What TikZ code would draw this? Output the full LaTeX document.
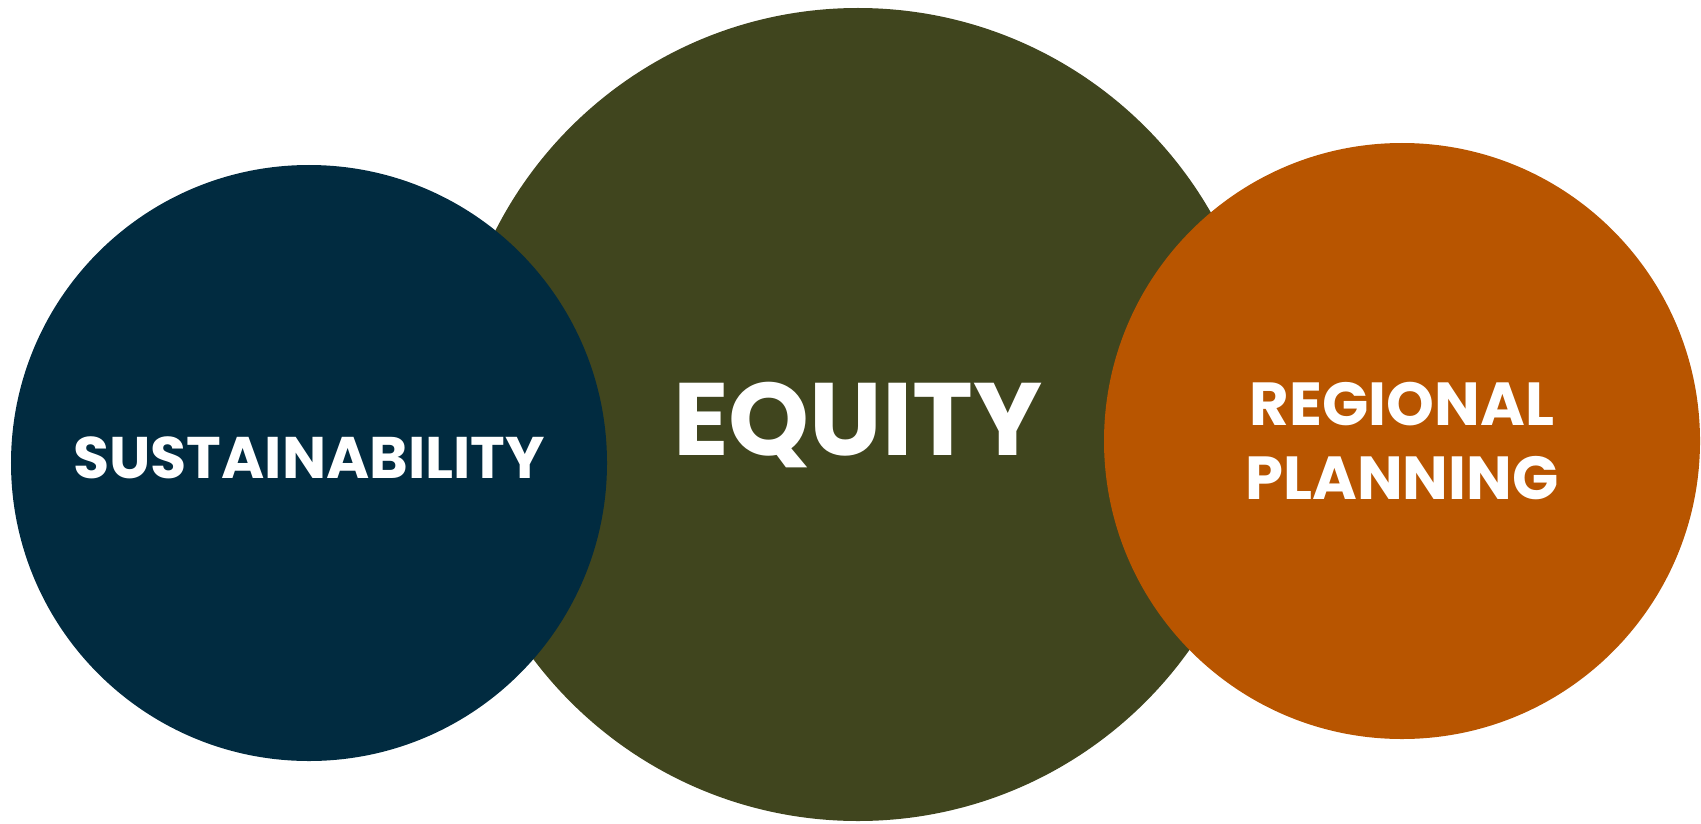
\documentclass[tikz,border=0pt]{standalone}
\usepackage{fontspec}
\setmainfont{Poppins}
\usepackage{tikz}
\definecolor{equitygreen}{RGB}{64,69,30}
\definecolor{sustainblue}{RGB}{1,43,64}
\definecolor{regionorange}{RGB}{184,85,0}

\begin{document}
\begin{tikzpicture}[disc/.style={circle, inner sep=0pt}, caption/.style={inner sep=0pt, text=white, align=center}]
\useasboundingbox (0,0) rectangle (17.01,-8.23);
% the three circles, green one behind
\node[disc, fill=equitygreen, minimum size=8.13cm] (equity) at (8.58,-4.145) {};
\node[disc, fill=sustainblue, minimum size=5.96cm] (sustain) at (3.09,-4.63) {};
\node[disc, fill=regionorange, minimum size=5.96cm] (regional) at (14.02,-4.41) {};
% texts
\node[caption, font=\bfseries\fontsize{29.3}{34}\selectfont] (equitytext) at ([yshift=-0.11cm]equity.center) {EQUITY};
\node[caption, font=\bfseries\fontsize{16.7}{20}\selectfont] (sustaintext) at ([yshift=0.055cm]sustain.center) {SUSTAINABILITY};
\node[caption, font=\bfseries\fontsize{17.3}{21.3}\selectfont] (regionaltext) at (regional.center) {REGIONAL\\PLANNING};
\end{tikzpicture}
\end{document}
